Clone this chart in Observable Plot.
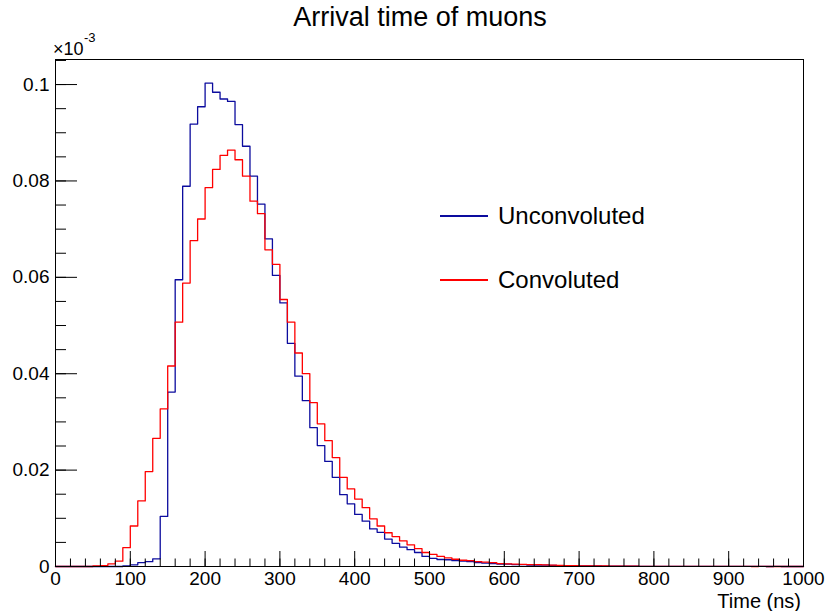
<!DOCTYPE html>
<html><head><meta charset="utf-8">
<script src="https://cdn.jsdelivr.net/npm/d3@7"></script>
<script src="https://cdn.jsdelivr.net/npm/@observablehq/plot@0.6"></script>
<style>
body{margin:0;background:#fff;font-family:"Liberation Sans",Arial,Helvetica,sans-serif;}
#wrap{position:relative;width:825px;height:611px;overflow:hidden;}
.t{position:absolute;white-space:nowrap;color:#000;line-height:1;}
.lg{position:absolute;height:1.2px;width:48px;}
</style></head><body><div id="wrap"></div>
<script>
// Histogram: 100 bins of 10 ns from 0 to 1000 ns; values in units of 10^-3
const binLow = d3.range(0, 1000, 10);
const unconvoluted = [
  0,0,0,0,0,0,0,0,0,0.0001,
  0.00035,0.0008,0.001,0.0016,0.0104,0.0362,0.0595,0.0789,0.0918,0.0954,
  0.1003,0.0984,0.0970,0.0965,0.0917,0.0872,0.0810,0.0752,0.0680,0.0604,
  0.0547,0.0463,0.0395,0.0344,0.0288,0.0251,0.0218,0.0185,0.0149,0.0130,
  0.0108,0.0094,0.0078,0.0071,0.0057,0.0048,0.0040,0.0035,0.0029,0.0021,
  0.0017,0.00145,0.0014,0.0012,0.0011,0.0010,0.0008,0.0007,0.0006,0.0005,
  0.0005,0.0004,0.0004,0.0003,0.0003,0.0003,0.00025,0.0002,0.0002,0.00015,
  0.00015,0.0001,0.0001,0.00008,0.00007,0.00006,0.00005,0.00005,0.00004,0.00004,
  0.00003,0.00003,0.00003,0.00002,0.00002,0.00002,0.00002,0.00002,0.00001,0.00001,
  0.00001,0.00001,0.00001,0.00001,0.00001,0,0.00001,0,0,0
];
const convoluted = [
  0,0,0,0,0,0.0001,0.0002,0.00056,0.0011,0.0039,
  0.0084,0.0136,0.0197,0.0266,0.0327,0.0416,0.0507,0.0588,0.0676,0.0721,
  0.0786,0.0824,0.0853,0.0864,0.0844,0.0810,0.0758,0.0732,0.0657,0.0627,
  0.0554,0.0507,0.0443,0.0400,0.0340,0.0296,0.0261,0.0226,0.0185,0.0161,
  0.0140,0.0122,0.0099,0.0084,0.0070,0.0062,0.0053,0.0045,0.0037,0.0029,
  0.0025,0.0021,0.0018,0.0015,0.0013,0.0012,0.0010,0.0009,0.0008,0.0006,
  0.00055,0.0005,0.00045,0.0004,0.0004,0.00035,0.0003,0.00025,0.0002,0.0002,
  0.00015,0.00015,0.0001,0.0001,0.00008,0.00007,0.00006,0.00005,0.00004,0.00004,
  0.00003,0.00003,0.00003,0.00002,0.00002,0.00002,0.00002,0.00001,0.00001,0.00001,
  0.00001,0.00001,0.00001,0,0.00001,0,0,0,0,0
];
const xMajor = [0,100,200,300,400,500,600,700,800,900,1000];
const xMinor = d3.range(0, 1001, 20);
const yMajor = [0,0.02,0.04,0.06,0.08,0.1];
const yMinor = d3.range(0, 0.1051, 0.005);

const seriesNames = ["Unconvoluted", "Convoluted"];
const seriesColors = ["#0c0c9e", "#ff0000"];

function steps(vals) {
  const pts = binLow.map((x, i) => ({x, y: vals[i]}));
  pts.push({x: 1000, y: vals[vals.length - 1]});
  return pts;
}

const chart = Plot.plot({
  width: 825, height: 611,
  marginLeft: 55, marginRight: 22, marginTop: 59, marginBottom: 45,
  x: {domain: [0, 1000]},
  y: {domain: [0, 0.1052]},
  style: {fontFamily: "Liberation Sans, Arial, Helvetica, sans-serif", fontSize: "19px", color: "#000", background: "#fff", overflow: "visible"},
  marks: [
    Plot.line(steps(unconvoluted), {x: "x", y: "y", curve: "step-after", stroke: seriesColors[0], strokeWidth: 1.3}),
    Plot.line(steps(convoluted), {x: "x", y: "y", curve: "step-after", stroke: seriesColors[1], strokeWidth: 1.3}),
    Plot.axisX({ticks: xMinor, tickSize: -7.5, tickFormat: () => "", label: null, strokeOpacity: 1}),
    Plot.axisX({ticks: xMajor, tickSize: -15, tickFormat: () => "", label: null, strokeOpacity: 1}),
    Plot.axisX({ticks: xMajor, tickSize: 0, tickPadding: 5, tickFormat: d => String(d), label: null, fontSize: 19}),
    Plot.axisY({ticks: yMinor, tickSize: -11, tickFormat: () => "", label: null, strokeOpacity: 1}),
    Plot.axisY({ticks: yMajor, tickSize: -22, tickFormat: () => "", label: null, strokeOpacity: 1}),
    Plot.axisY({ticks: yMajor, tickSize: 0, tickPadding: 6, tickFormat: d => String(+d.toFixed(4)), label: null, fontSize: 19}),
    Plot.frame({stroke: "#000"})
  ]
});
const wrap = document.getElementById("wrap");
wrap.appendChild(chart);

function addText(txt, css) {
  const d = document.createElement("div");
  d.className = "t";
  d.textContent = txt;
  Object.assign(d.style, css);
  wrap.appendChild(d);
  return d;
}
addText("Arrival time of muons", {left: "0px", width: "840px", textAlign: "center", top: "4px", fontSize: "27px"});
addText("×10", {left: "53px", top: "40px", fontSize: "18px"});
addText("-3", {left: "84px", top: "31px", fontSize: "13px"});
addText("Time (ns)", {right: "24px", top: "591px", fontSize: "20px"});
// legend
const lgTop = [216, 280];
seriesNames.forEach((name, i) => {
  const l = document.createElement("div");
  l.className = "lg";
  Object.assign(l.style, {left: "440px", top: (lgTop[i] - 0.6) + "px", background: seriesColors[i]});
  wrap.appendChild(l);
  addText(name, {left: "498px", top: (lgTop[i] - 12) + "px", fontSize: "24px"});
});
</script></body></html>
